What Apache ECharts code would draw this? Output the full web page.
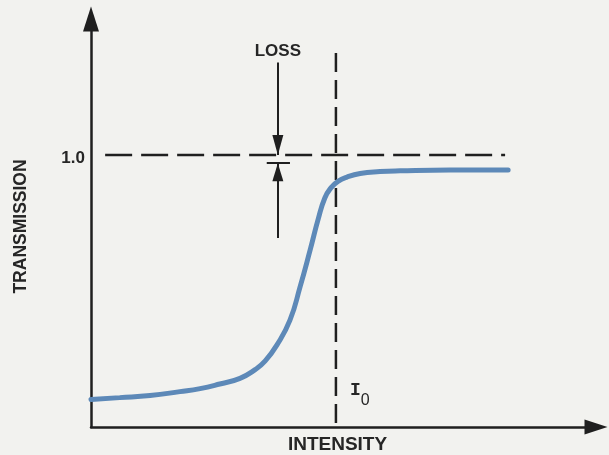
<!DOCTYPE html>
<html>
<head>
<meta charset="utf-8">
<script src="https://cdn.jsdelivr.net/npm/echarts@6/dist/echarts.min.js"></script>
<style>
  html, body { margin: 0; padding: 0; background: #f2f2ef; }
  #chart { width: 609px; height: 455px; }
</style>
</head>
<body>
<div id="chart"></div>
<script>
// Saturable transmission curve: intensity (arbitrary units) vs transmission (fraction of 1.0)
const intensity = [0, 5.7, 11.7, 17.6, 21.6, 25.5, 29.5, 32.5, 34.5, 36.8, 39.4, 41.4, 43.4, 45.0, 46.3, 47.5, 48.9, 50.7, 53.3, 57.2, 61.2, 71.1, 82.6];
const transmission = [0.101, 0.108, 0.116, 0.130, 0.141, 0.158, 0.179, 0.211, 0.243, 0.301, 0.393, 0.515, 0.651, 0.765, 0.842, 0.879, 0.903, 0.919, 0.932, 0.939, 0.942, 0.945, 0.945];

// Reference levels
const unityLevel = 1.0;
const unitySpan = [2.8, 82.0];
const thresholdIntensity = 48.5;     // I0
const thresholdTop = 1.375;

// Loss indicator (arrows pointing at 1.0 and at the transmitted level)
const lossIntensity = 37.0;
const lossArrowTop = 1.34;
const transmittedLevel = 0.97;
const lossArrowBottom = 0.695;
const lossBarSpan = [34.8, 39.4];

const yTickLabels = { 1: '1.0' };

const ink = '#1f1f1f';
const textStyle = { fontFamily: 'Liberation Sans', fontWeight: 'bold', color: '#262626' };

const chart = echarts.init(document.getElementById('chart'), null, { renderer: 'canvas' });

chart.setOption({
  backgroundColor: '#f2f2ef',
  animation: false,
  grid: { left: 91, right: 13, top: 19, bottom: 28, outerBoundsMode: 'none', containLabel: false },
  xAxis: {
    type: 'value', min: 0, max: 100,
    name: 'INTENSITY', nameLocation: 'middle', nameGap: 8,
    nameTextStyle: Object.assign({ fontSize: 19, padding: [0, 12, 0, 0] }, textStyle),
    axisLine: { lineStyle: { color: ink, width: 2.5 }, symbol: ['none', 'triangle'], symbolSize: [15, 23] },
    axisTick: { show: false }, axisLabel: { show: false }, splitLine: { show: false }
  },
  yAxis: {
    type: 'value', min: 0, max: 1.5, interval: 1,
    name: 'TRANSMISSION', nameLocation: 'middle', nameGap: 61,
    nameTextStyle: Object.assign({ fontSize: 17.5, padding: [0, 7, 0, 0] }, textStyle),
    axisLine: { lineStyle: { color: ink, width: 2.5 }, symbol: ['none', 'triangle'], symbolSize: [16, 25] },
    axisTick: { show: false },
    axisLabel: Object.assign({
      fontSize: 17, margin: 6, lineHeight: 6, verticalAlign: 'top',
      formatter: v => yTickLabels[v] || ''
    }, textStyle),
    splitLine: { show: false }
  },
  series: [
    {
      name: 'transmission', type: 'line', z: 4,
      data: intensity.map((x, i) => [x, transmission[i]]),
      smooth: 0.5, showSymbol: false,
      lineStyle: { color: '#5d89b8', width: 5, cap: 'round' }
    },
    {
      name: 'unity', type: 'line', z: 3,
      data: [[unitySpan[0], unityLevel], [unitySpan[1], unityLevel]],
      showSymbol: false,
      lineStyle: { color: ink, width: 2.5, type: [27, 9] }
    },
    {
      name: 'threshold', type: 'line', z: 3,
      data: [[thresholdIntensity, thresholdTop], [thresholdIntensity, 0]],
      showSymbol: false,
      lineStyle: { color: ink, width: 2.5, type: [19, 8] },
      markPoint: {
        silent: true,
        data: [{
          coord: [thresholdIntensity, 0.117], symbol: 'circle', symbolSize: 0,
          label: {
            show: true, position: 'right', distance: 14,
            formatter: '{i|I}{s|0}',
            rich: {
              i: { fontFamily: 'Liberation Mono', fontWeight: 'bold', fontSize: 18, lineHeight: 17, verticalAlign: 'top', color: '#262626' },
              s: { fontFamily: 'Liberation Sans', fontSize: 16, lineHeight: 27, verticalAlign: 'bottom', color: '#262626' }
            }
          }
        }]
      }
    },
    {
      name: 'loss', type: 'line', z: 5, data: [],
      markLine: {
        silent: true, animation: false,
        symbol: ['none', 'none'],
        lineStyle: { color: ink, width: 2, type: 'solid' },
        label: { show: false },
        data: [
          [
            { coord: [lossIntensity, lossArrowTop], symbol: 'none',
              label: Object.assign({ show: true, position: 'start', distance: 3, formatter: 'LOSS', fontSize: 17 }, textStyle) },
            { coord: [lossIntensity, unityLevel], symbol: 'triangle', symbolSize: [11, 20], symbolOffset: [0, 10] }
          ],
          [
            { coord: [lossIntensity, lossArrowBottom], symbol: 'none' },
            { coord: [lossIntensity, transmittedLevel], symbol: 'triangle', symbolSize: [11, 18], symbolOffset: [0, 9] }
          ],
          [
            { coord: [lossBarSpan[0], transmittedLevel], symbol: 'none' },
            { coord: [lossBarSpan[1], transmittedLevel], symbol: 'none' }
          ]
        ]
      }
    }
  ]
});
</script>
</body>
</html>
